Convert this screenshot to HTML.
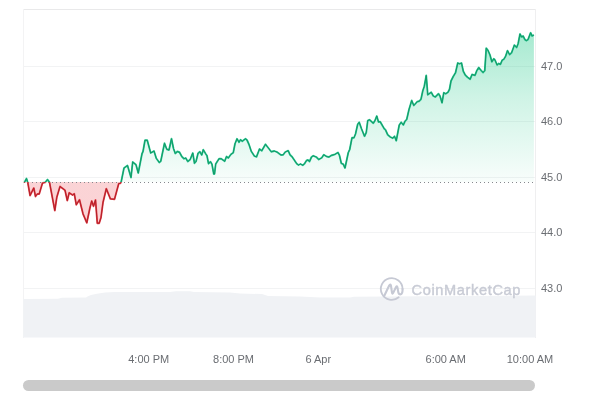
<!DOCTYPE html>
<html lang="en">
<head>
<meta charset="utf-8">
<title>Chart</title>
<style>
html,body{margin:0;padding:0;background:#fff;}
body{width:600px;height:400px;overflow:hidden;font-family:"Liberation Sans",sans-serif;}
svg{display:block;}
</style>
</head>
<body>
<svg width="600" height="400" viewBox="0 0 600 400">
<defs>
<linearGradient id="gG" gradientUnits="userSpaceOnUse" x1="0" y1="10" x2="0" y2="182">
<stop offset="0" stop-color="#16c784" stop-opacity="0.44"/>
<stop offset="0.5" stop-color="#16c784" stop-opacity="0.21"/>
<stop offset="1" stop-color="#16c784" stop-opacity="0.03"/>
</linearGradient>
<linearGradient id="gR" gradientUnits="userSpaceOnUse" x1="0" y1="182" x2="0" y2="337">
<stop offset="0" stop-color="#ea3943" stop-opacity="0.22"/>
<stop offset="1" stop-color="#ea3943" stop-opacity="0.22"/>
</linearGradient>
<clipPath id="cT"><rect x="0" y="0" width="600" height="182.3"/></clipPath>
<clipPath id="cB"><rect x="0" y="182.3" width="600" height="217.7"/></clipPath>
<clipPath id="fT"><rect x="0" y="0" width="600" height="182"/></clipPath>
<clipPath id="fB"><rect x="0" y="182" width="600" height="218"/></clipPath>
</defs>
<rect width="600" height="400" fill="#fff"/>
<rect x="23" y="66" width="512.5" height="1" fill="#f2f3f4"/>
<rect x="23" y="121" width="512.5" height="1" fill="#f2f3f4"/>
<rect x="23" y="177" width="512.5" height="1" fill="#f2f3f4"/>
<rect x="23" y="232" width="512.5" height="1" fill="#f2f3f4"/>
<rect x="23" y="288" width="512.5" height="1" fill="#f2f3f4"/>
<rect x="23" y="9" width="513" height="1" fill="#e9e9ea"/>
<rect x="23" y="9" width="1" height="329" fill="#f3f3f4"/>
<rect x="535" y="9" width="1" height="329" fill="#efeff0"/>
<path d="M23.30,299.00 L58.00,298.80 L62.00,297.80 L86.00,297.40 L88.00,296.20 L91.00,295.00 L97.00,293.80 L105.00,292.60 L115.00,292.00 L170.00,292.00 L176.00,291.30 L190.00,291.30 L194.00,292.00 L230.00,292.40 L240.00,293.60 L262.00,294.00 L268.00,296.00 L300.00,296.40 L320.00,297.40 L350.00,297.40 L354.00,296.80 L420.00,296.30 L470.00,296.00 L535.80,295.60 L535.8,337.6 L23.3,337.6 Z" fill="#f0f2f5"/>
<g fill="none" stroke="#c6c9d4" stroke-linecap="round" stroke-linejoin="round">
<path stroke-width="1.8" d="M398.7,297.3 A10.85,10.85 0 1 1 402.55,289"/>
<path stroke-width="2.1" d="M402.55,289 C402.7,291.6 402.1,294.4 400.5,294.4 C399,294.4 398.5,293.3 398.3,292.2 L397.5,287.6 Q397.1,285.2 395.9,287.2 L393.2,292.9 Q392.3,294.7 392,292.6 L391,285.8 Q390.4,283.3 389.2,285.5 L384.3,295.7"/>
</g>
<text x="411.6" y="294.5" font-family="'Liberation Sans', sans-serif" font-size="14.6" letter-spacing="0.62" fill="#c8cbd5" stroke="#c8cbd5" stroke-width="0.4">CoinMarketCap</text>
<path d="M24.30,182.60 L26.50,178.50 L27.80,182.70 L30.05,195.50 L33.80,188.00 L35.50,196.50 L37.30,194.00 L39.20,194.00 L42.50,183.00 L45.20,182.30 L47.50,179.60 L49.50,182.30 L54.80,210.50 L56.80,197.30 L60.00,186.50 L65.00,190.20 L67.30,200.60 L69.20,192.80 L72.50,195.00 L74.30,193.80 L76.30,204.80 L79.50,199.80 L83.00,213.80 L86.80,222.80 L89.80,208.50 L91.70,201.00 L93.50,206.30 L95.50,200.00 L97.30,223.20 L99.20,223.20 L101.00,217.50 L103.00,202.50 L106.30,188.70 L110.40,198.90 L114.50,199.25 L118.70,183.70 L120.40,183.30 L121.20,181.80 L124.00,168.00 L127.50,165.50 L131.00,177.50 L132.70,162.00 L136.00,164.70 L138.25,173.00 L142.00,153.75 L143.00,151.50 L145.00,140.25 L147.25,140.25 L150.70,153.00 L154.00,151.00 L156.25,158.25 L159.25,162.50 L160.75,161.25 L164.50,143.25 L166.75,149.25 L169.00,150.00 L171.50,138.75 L173.50,148.50 L175.30,153.50 L177.25,151.50 L179.50,152.25 L181.80,156.50 L184.00,158.75 L185.70,158.00 L187.80,161.50 L190.20,159.50 L192.75,153.00 L194.50,163.25 L196.00,161.50 L198.00,153.50 L199.80,151.70 L201.75,155.00 L203.25,149.75 L205.50,153.50 L207.00,155.75 L208.50,163.70 L210.50,161.75 L212.00,164.30 L213.75,174.00 L214.50,174.00 L215.70,164.00 L219.00,158.75 L221.25,158.75 L224.70,161.30 L226.50,156.50 L228.30,158.00 L231.00,154.25 L233.25,152.75 L235.00,143.75 L237.00,138.80 L239.00,142.25 L240.50,139.70 L242.25,141.20 L245.50,138.80 L247.00,140.00 L249.00,144.50 L251.25,151.25 L254.50,156.20 L256.50,156.80 L259.50,149.00 L261.75,150.80 L265.50,144.25 L267.80,147.25 L271.25,151.75 L274.25,151.00 L277.25,152.20 L281.00,155.00 L283.25,154.75 L285.20,152.00 L288.20,150.70 L290.00,154.75 L292.25,157.00 L296.75,163.75 L298.50,165.00 L300.50,164.00 L302.75,165.25 L304.50,163.75 L306.50,160.50 L308.00,160.00 L309.50,161.50 L311.50,157.00 L313.25,155.80 L316.25,157.00 L318.80,159.50 L321.80,157.75 L323.75,154.75 L327.00,156.70 L329.00,157.00 L331.25,155.50 L335.00,154.30 L338.00,152.50 L339.50,155.50 L341.30,163.30 L343.25,164.20 L345.00,168.00 L348.25,152.75 L349.75,149.30 L352.00,137.75 L354.00,137.75 L355.50,134.00 L357.70,124.25 L359.20,122.30 L361.50,128.75 L364.50,136.25 L366.25,132.50 L367.75,120.50 L369.50,119.75 L373.30,123.20 L375.00,120.50 L376.75,116.00 L378.50,122.00 L380.20,121.70 L384.25,128.75 L385.50,129.80 L387.70,134.75 L390.25,137.00 L392.80,138.20 L394.50,136.25 L396.25,140.75 L399.25,125.00 L401.20,122.30 L403.30,125.00 L405.00,121.25 L406.75,119.30 L409.00,109.50 L411.70,100.50 L413.80,105.50 L417.25,101.70 L419.00,101.25 L421.00,99.30 L422.80,90.75 L424.30,86.25 L426.25,75.50 L427.75,94.80 L431.20,92.25 L433.30,96.00 L435.25,97.00 L438.50,93.75 L440.00,96.00 L442.00,102.75 L443.80,92.70 L445.75,93.75 L448.00,92.25 L449.50,89.25 L451.00,81.00 L453.25,76.50 L455.50,72.75 L457.75,63.00 L459.50,63.75 L461.50,63.00 L463.30,71.25 L465.25,75.00 L467.50,77.25 L470.20,79.20 L472.00,74.50 L475.00,75.30 L476.90,70.40 L478.75,67.50 L481.25,70.60 L483.10,72.50 L484.75,70.60 L486.25,48.10 L488.10,50.60 L490.00,55.00 L491.90,61.90 L493.75,58.75 L495.00,60.00 L497.10,65.00 L498.75,63.50 L500.40,64.40 L502.25,60.00 L503.75,59.40 L505.60,56.25 L507.50,50.60 L509.60,54.60 L511.60,52.75 L514.40,45.00 L516.60,47.50 L518.10,43.75 L520.00,34.00 L521.50,36.90 L523.10,36.00 L525.00,39.75 L526.50,40.60 L528.10,39.40 L530.60,32.75 L532.10,36.00 L533.90,35.00 L533.90,182 L24.30,182 Z" fill="url(#gG)" clip-path="url(#fT)"/>
<path d="M24.30,182.60 L26.50,178.50 L27.80,182.70 L30.05,195.50 L33.80,188.00 L35.50,196.50 L37.30,194.00 L39.20,194.00 L42.50,183.00 L45.20,182.30 L47.50,179.60 L49.50,182.30 L54.80,210.50 L56.80,197.30 L60.00,186.50 L65.00,190.20 L67.30,200.60 L69.20,192.80 L72.50,195.00 L74.30,193.80 L76.30,204.80 L79.50,199.80 L83.00,213.80 L86.80,222.80 L89.80,208.50 L91.70,201.00 L93.50,206.30 L95.50,200.00 L97.30,223.20 L99.20,223.20 L101.00,217.50 L103.00,202.50 L106.30,188.70 L110.40,198.90 L114.50,199.25 L118.70,183.70 L120.40,183.30 L121.20,181.80 L124.00,168.00 L127.50,165.50 L131.00,177.50 L132.70,162.00 L136.00,164.70 L138.25,173.00 L142.00,153.75 L143.00,151.50 L145.00,140.25 L147.25,140.25 L150.70,153.00 L154.00,151.00 L156.25,158.25 L159.25,162.50 L160.75,161.25 L164.50,143.25 L166.75,149.25 L169.00,150.00 L171.50,138.75 L173.50,148.50 L175.30,153.50 L177.25,151.50 L179.50,152.25 L181.80,156.50 L184.00,158.75 L185.70,158.00 L187.80,161.50 L190.20,159.50 L192.75,153.00 L194.50,163.25 L196.00,161.50 L198.00,153.50 L199.80,151.70 L201.75,155.00 L203.25,149.75 L205.50,153.50 L207.00,155.75 L208.50,163.70 L210.50,161.75 L212.00,164.30 L213.75,174.00 L214.50,174.00 L215.70,164.00 L219.00,158.75 L221.25,158.75 L224.70,161.30 L226.50,156.50 L228.30,158.00 L231.00,154.25 L233.25,152.75 L235.00,143.75 L237.00,138.80 L239.00,142.25 L240.50,139.70 L242.25,141.20 L245.50,138.80 L247.00,140.00 L249.00,144.50 L251.25,151.25 L254.50,156.20 L256.50,156.80 L259.50,149.00 L261.75,150.80 L265.50,144.25 L267.80,147.25 L271.25,151.75 L274.25,151.00 L277.25,152.20 L281.00,155.00 L283.25,154.75 L285.20,152.00 L288.20,150.70 L290.00,154.75 L292.25,157.00 L296.75,163.75 L298.50,165.00 L300.50,164.00 L302.75,165.25 L304.50,163.75 L306.50,160.50 L308.00,160.00 L309.50,161.50 L311.50,157.00 L313.25,155.80 L316.25,157.00 L318.80,159.50 L321.80,157.75 L323.75,154.75 L327.00,156.70 L329.00,157.00 L331.25,155.50 L335.00,154.30 L338.00,152.50 L339.50,155.50 L341.30,163.30 L343.25,164.20 L345.00,168.00 L348.25,152.75 L349.75,149.30 L352.00,137.75 L354.00,137.75 L355.50,134.00 L357.70,124.25 L359.20,122.30 L361.50,128.75 L364.50,136.25 L366.25,132.50 L367.75,120.50 L369.50,119.75 L373.30,123.20 L375.00,120.50 L376.75,116.00 L378.50,122.00 L380.20,121.70 L384.25,128.75 L385.50,129.80 L387.70,134.75 L390.25,137.00 L392.80,138.20 L394.50,136.25 L396.25,140.75 L399.25,125.00 L401.20,122.30 L403.30,125.00 L405.00,121.25 L406.75,119.30 L409.00,109.50 L411.70,100.50 L413.80,105.50 L417.25,101.70 L419.00,101.25 L421.00,99.30 L422.80,90.75 L424.30,86.25 L426.25,75.50 L427.75,94.80 L431.20,92.25 L433.30,96.00 L435.25,97.00 L438.50,93.75 L440.00,96.00 L442.00,102.75 L443.80,92.70 L445.75,93.75 L448.00,92.25 L449.50,89.25 L451.00,81.00 L453.25,76.50 L455.50,72.75 L457.75,63.00 L459.50,63.75 L461.50,63.00 L463.30,71.25 L465.25,75.00 L467.50,77.25 L470.20,79.20 L472.00,74.50 L475.00,75.30 L476.90,70.40 L478.75,67.50 L481.25,70.60 L483.10,72.50 L484.75,70.60 L486.25,48.10 L488.10,50.60 L490.00,55.00 L491.90,61.90 L493.75,58.75 L495.00,60.00 L497.10,65.00 L498.75,63.50 L500.40,64.40 L502.25,60.00 L503.75,59.40 L505.60,56.25 L507.50,50.60 L509.60,54.60 L511.60,52.75 L514.40,45.00 L516.60,47.50 L518.10,43.75 L520.00,34.00 L521.50,36.90 L523.10,36.00 L525.00,39.75 L526.50,40.60 L528.10,39.40 L530.60,32.75 L532.10,36.00 L533.90,35.00 L533.90,182 L24.30,182 Z" fill="url(#gR)" clip-path="url(#fB)"/>
<line x1="24" y1="182.5" x2="535" y2="182.5" stroke="#85888d" stroke-width="1" stroke-dasharray="1 3"/>
<g fill="none" stroke-linejoin="round" stroke-linecap="butt" clip-path="url(#cT)"><path d="M24.30,182.60 L26.50,178.50 L27.80,182.70 L30.05,195.50 L33.80,188.00 L35.50,196.50 L37.30,194.00 L39.20,194.00 L42.50,183.00 L45.20,182.30 L47.50,179.60 L49.50,182.30 L54.80,210.50 L56.80,197.30 L60.00,186.50 L65.00,190.20 L67.30,200.60 L69.20,192.80 L72.50,195.00 L74.30,193.80 L76.30,204.80 L79.50,199.80 L83.00,213.80 L86.80,222.80 L89.80,208.50 L91.70,201.00 L93.50,206.30 L95.50,200.00 L97.30,223.20 L99.20,223.20 L101.00,217.50 L103.00,202.50 L106.30,188.70 L110.40,198.90 L114.50,199.25 L118.70,183.70 L120.40,183.30 L121.20,181.80 L124.00,168.00 L127.50,165.50 L131.00,177.50 L132.70,162.00 L136.00,164.70 L138.25,173.00 L142.00,153.75 L143.00,151.50 L145.00,140.25 L147.25,140.25 L150.70,153.00 L154.00,151.00 L156.25,158.25 L159.25,162.50 L160.75,161.25 L164.50,143.25 L166.75,149.25 L169.00,150.00 L171.50,138.75 L173.50,148.50 L175.30,153.50 L177.25,151.50 L179.50,152.25 L181.80,156.50 L184.00,158.75 L185.70,158.00 L187.80,161.50 L190.20,159.50 L192.75,153.00 L194.50,163.25 L196.00,161.50 L198.00,153.50 L199.80,151.70 L201.75,155.00 L203.25,149.75 L205.50,153.50 L207.00,155.75 L208.50,163.70 L210.50,161.75 L212.00,164.30 L213.75,174.00 L214.50,174.00 L215.70,164.00 L219.00,158.75 L221.25,158.75 L224.70,161.30 L226.50,156.50 L228.30,158.00 L231.00,154.25 L233.25,152.75 L235.00,143.75 L237.00,138.80 L239.00,142.25 L240.50,139.70 L242.25,141.20 L245.50,138.80 L247.00,140.00 L249.00,144.50 L251.25,151.25 L254.50,156.20 L256.50,156.80 L259.50,149.00 L261.75,150.80 L265.50,144.25 L267.80,147.25 L271.25,151.75 L274.25,151.00 L277.25,152.20 L281.00,155.00 L283.25,154.75 L285.20,152.00 L288.20,150.70 L290.00,154.75 L292.25,157.00 L296.75,163.75 L298.50,165.00 L300.50,164.00 L302.75,165.25 L304.50,163.75 L306.50,160.50 L308.00,160.00 L309.50,161.50 L311.50,157.00 L313.25,155.80 L316.25,157.00 L318.80,159.50 L321.80,157.75 L323.75,154.75 L327.00,156.70 L329.00,157.00 L331.25,155.50 L335.00,154.30 L338.00,152.50 L339.50,155.50 L341.30,163.30 L343.25,164.20 L345.00,168.00 L348.25,152.75 L349.75,149.30 L352.00,137.75 L354.00,137.75 L355.50,134.00 L357.70,124.25 L359.20,122.30 L361.50,128.75 L364.50,136.25 L366.25,132.50 L367.75,120.50 L369.50,119.75 L373.30,123.20 L375.00,120.50 L376.75,116.00 L378.50,122.00 L380.20,121.70 L384.25,128.75 L385.50,129.80 L387.70,134.75 L390.25,137.00 L392.80,138.20 L394.50,136.25 L396.25,140.75 L399.25,125.00 L401.20,122.30 L403.30,125.00 L405.00,121.25 L406.75,119.30 L409.00,109.50 L411.70,100.50 L413.80,105.50 L417.25,101.70 L419.00,101.25 L421.00,99.30 L422.80,90.75 L424.30,86.25 L426.25,75.50 L427.75,94.80 L431.20,92.25 L433.30,96.00 L435.25,97.00 L438.50,93.75 L440.00,96.00 L442.00,102.75 L443.80,92.70 L445.75,93.75 L448.00,92.25 L449.50,89.25 L451.00,81.00 L453.25,76.50 L455.50,72.75 L457.75,63.00 L459.50,63.75 L461.50,63.00 L463.30,71.25 L465.25,75.00 L467.50,77.25 L470.20,79.20 L472.00,74.50 L475.00,75.30 L476.90,70.40 L478.75,67.50 L481.25,70.60 L483.10,72.50 L484.75,70.60 L486.25,48.10 L488.10,50.60 L490.00,55.00 L491.90,61.90 L493.75,58.75 L495.00,60.00 L497.10,65.00 L498.75,63.50 L500.40,64.40 L502.25,60.00 L503.75,59.40 L505.60,56.25 L507.50,50.60 L509.60,54.60 L511.60,52.75 L514.40,45.00 L516.60,47.50 L518.10,43.75 L520.00,34.00 L521.50,36.90 L523.10,36.00 L525.00,39.75 L526.50,40.60 L528.10,39.40 L530.60,32.75 L532.10,36.00 L533.90,35.00" stroke="#2fc693" stroke-width="1.85"/><path d="M24.30,182.60 L26.50,178.50 L27.80,182.70 L30.05,195.50 L33.80,188.00 L35.50,196.50 L37.30,194.00 L39.20,194.00 L42.50,183.00 L45.20,182.30 L47.50,179.60 L49.50,182.30 L54.80,210.50 L56.80,197.30 L60.00,186.50 L65.00,190.20 L67.30,200.60 L69.20,192.80 L72.50,195.00 L74.30,193.80 L76.30,204.80 L79.50,199.80 L83.00,213.80 L86.80,222.80 L89.80,208.50 L91.70,201.00 L93.50,206.30 L95.50,200.00 L97.30,223.20 L99.20,223.20 L101.00,217.50 L103.00,202.50 L106.30,188.70 L110.40,198.90 L114.50,199.25 L118.70,183.70 L120.40,183.30 L121.20,181.80 L124.00,168.00 L127.50,165.50 L131.00,177.50 L132.70,162.00 L136.00,164.70 L138.25,173.00 L142.00,153.75 L143.00,151.50 L145.00,140.25 L147.25,140.25 L150.70,153.00 L154.00,151.00 L156.25,158.25 L159.25,162.50 L160.75,161.25 L164.50,143.25 L166.75,149.25 L169.00,150.00 L171.50,138.75 L173.50,148.50 L175.30,153.50 L177.25,151.50 L179.50,152.25 L181.80,156.50 L184.00,158.75 L185.70,158.00 L187.80,161.50 L190.20,159.50 L192.75,153.00 L194.50,163.25 L196.00,161.50 L198.00,153.50 L199.80,151.70 L201.75,155.00 L203.25,149.75 L205.50,153.50 L207.00,155.75 L208.50,163.70 L210.50,161.75 L212.00,164.30 L213.75,174.00 L214.50,174.00 L215.70,164.00 L219.00,158.75 L221.25,158.75 L224.70,161.30 L226.50,156.50 L228.30,158.00 L231.00,154.25 L233.25,152.75 L235.00,143.75 L237.00,138.80 L239.00,142.25 L240.50,139.70 L242.25,141.20 L245.50,138.80 L247.00,140.00 L249.00,144.50 L251.25,151.25 L254.50,156.20 L256.50,156.80 L259.50,149.00 L261.75,150.80 L265.50,144.25 L267.80,147.25 L271.25,151.75 L274.25,151.00 L277.25,152.20 L281.00,155.00 L283.25,154.75 L285.20,152.00 L288.20,150.70 L290.00,154.75 L292.25,157.00 L296.75,163.75 L298.50,165.00 L300.50,164.00 L302.75,165.25 L304.50,163.75 L306.50,160.50 L308.00,160.00 L309.50,161.50 L311.50,157.00 L313.25,155.80 L316.25,157.00 L318.80,159.50 L321.80,157.75 L323.75,154.75 L327.00,156.70 L329.00,157.00 L331.25,155.50 L335.00,154.30 L338.00,152.50 L339.50,155.50 L341.30,163.30 L343.25,164.20 L345.00,168.00 L348.25,152.75 L349.75,149.30 L352.00,137.75 L354.00,137.75 L355.50,134.00 L357.70,124.25 L359.20,122.30 L361.50,128.75 L364.50,136.25 L366.25,132.50 L367.75,120.50 L369.50,119.75 L373.30,123.20 L375.00,120.50 L376.75,116.00 L378.50,122.00 L380.20,121.70 L384.25,128.75 L385.50,129.80 L387.70,134.75 L390.25,137.00 L392.80,138.20 L394.50,136.25 L396.25,140.75 L399.25,125.00 L401.20,122.30 L403.30,125.00 L405.00,121.25 L406.75,119.30 L409.00,109.50 L411.70,100.50 L413.80,105.50 L417.25,101.70 L419.00,101.25 L421.00,99.30 L422.80,90.75 L424.30,86.25 L426.25,75.50 L427.75,94.80 L431.20,92.25 L433.30,96.00 L435.25,97.00 L438.50,93.75 L440.00,96.00 L442.00,102.75 L443.80,92.70 L445.75,93.75 L448.00,92.25 L449.50,89.25 L451.00,81.00 L453.25,76.50 L455.50,72.75 L457.75,63.00 L459.50,63.75 L461.50,63.00 L463.30,71.25 L465.25,75.00 L467.50,77.25 L470.20,79.20 L472.00,74.50 L475.00,75.30 L476.90,70.40 L478.75,67.50 L481.25,70.60 L483.10,72.50 L484.75,70.60 L486.25,48.10 L488.10,50.60 L490.00,55.00 L491.90,61.90 L493.75,58.75 L495.00,60.00 L497.10,65.00 L498.75,63.50 L500.40,64.40 L502.25,60.00 L503.75,59.40 L505.60,56.25 L507.50,50.60 L509.60,54.60 L511.60,52.75 L514.40,45.00 L516.60,47.50 L518.10,43.75 L520.00,34.00 L521.50,36.90 L523.10,36.00 L525.00,39.75 L526.50,40.60 L528.10,39.40 L530.60,32.75 L532.10,36.00 L533.90,35.00" stroke="#0f9764" stroke-width="0.95"/></g>
<g fill="none" stroke-linejoin="round" stroke-linecap="butt" clip-path="url(#cB)"><path d="M24.30,182.60 L26.50,178.50 L27.80,182.70 L30.05,195.50 L33.80,188.00 L35.50,196.50 L37.30,194.00 L39.20,194.00 L42.50,183.00 L45.20,182.30 L47.50,179.60 L49.50,182.30 L54.80,210.50 L56.80,197.30 L60.00,186.50 L65.00,190.20 L67.30,200.60 L69.20,192.80 L72.50,195.00 L74.30,193.80 L76.30,204.80 L79.50,199.80 L83.00,213.80 L86.80,222.80 L89.80,208.50 L91.70,201.00 L93.50,206.30 L95.50,200.00 L97.30,223.20 L99.20,223.20 L101.00,217.50 L103.00,202.50 L106.30,188.70 L110.40,198.90 L114.50,199.25 L118.70,183.70 L120.40,183.30 L121.20,181.80 L124.00,168.00 L127.50,165.50 L131.00,177.50 L132.70,162.00 L136.00,164.70 L138.25,173.00 L142.00,153.75 L143.00,151.50 L145.00,140.25 L147.25,140.25 L150.70,153.00 L154.00,151.00 L156.25,158.25 L159.25,162.50 L160.75,161.25 L164.50,143.25 L166.75,149.25 L169.00,150.00 L171.50,138.75 L173.50,148.50 L175.30,153.50 L177.25,151.50 L179.50,152.25 L181.80,156.50 L184.00,158.75 L185.70,158.00 L187.80,161.50 L190.20,159.50 L192.75,153.00 L194.50,163.25 L196.00,161.50 L198.00,153.50 L199.80,151.70 L201.75,155.00 L203.25,149.75 L205.50,153.50 L207.00,155.75 L208.50,163.70 L210.50,161.75 L212.00,164.30 L213.75,174.00 L214.50,174.00 L215.70,164.00 L219.00,158.75 L221.25,158.75 L224.70,161.30 L226.50,156.50 L228.30,158.00 L231.00,154.25 L233.25,152.75 L235.00,143.75 L237.00,138.80 L239.00,142.25 L240.50,139.70 L242.25,141.20 L245.50,138.80 L247.00,140.00 L249.00,144.50 L251.25,151.25 L254.50,156.20 L256.50,156.80 L259.50,149.00 L261.75,150.80 L265.50,144.25 L267.80,147.25 L271.25,151.75 L274.25,151.00 L277.25,152.20 L281.00,155.00 L283.25,154.75 L285.20,152.00 L288.20,150.70 L290.00,154.75 L292.25,157.00 L296.75,163.75 L298.50,165.00 L300.50,164.00 L302.75,165.25 L304.50,163.75 L306.50,160.50 L308.00,160.00 L309.50,161.50 L311.50,157.00 L313.25,155.80 L316.25,157.00 L318.80,159.50 L321.80,157.75 L323.75,154.75 L327.00,156.70 L329.00,157.00 L331.25,155.50 L335.00,154.30 L338.00,152.50 L339.50,155.50 L341.30,163.30 L343.25,164.20 L345.00,168.00 L348.25,152.75 L349.75,149.30 L352.00,137.75 L354.00,137.75 L355.50,134.00 L357.70,124.25 L359.20,122.30 L361.50,128.75 L364.50,136.25 L366.25,132.50 L367.75,120.50 L369.50,119.75 L373.30,123.20 L375.00,120.50 L376.75,116.00 L378.50,122.00 L380.20,121.70 L384.25,128.75 L385.50,129.80 L387.70,134.75 L390.25,137.00 L392.80,138.20 L394.50,136.25 L396.25,140.75 L399.25,125.00 L401.20,122.30 L403.30,125.00 L405.00,121.25 L406.75,119.30 L409.00,109.50 L411.70,100.50 L413.80,105.50 L417.25,101.70 L419.00,101.25 L421.00,99.30 L422.80,90.75 L424.30,86.25 L426.25,75.50 L427.75,94.80 L431.20,92.25 L433.30,96.00 L435.25,97.00 L438.50,93.75 L440.00,96.00 L442.00,102.75 L443.80,92.70 L445.75,93.75 L448.00,92.25 L449.50,89.25 L451.00,81.00 L453.25,76.50 L455.50,72.75 L457.75,63.00 L459.50,63.75 L461.50,63.00 L463.30,71.25 L465.25,75.00 L467.50,77.25 L470.20,79.20 L472.00,74.50 L475.00,75.30 L476.90,70.40 L478.75,67.50 L481.25,70.60 L483.10,72.50 L484.75,70.60 L486.25,48.10 L488.10,50.60 L490.00,55.00 L491.90,61.90 L493.75,58.75 L495.00,60.00 L497.10,65.00 L498.75,63.50 L500.40,64.40 L502.25,60.00 L503.75,59.40 L505.60,56.25 L507.50,50.60 L509.60,54.60 L511.60,52.75 L514.40,45.00 L516.60,47.50 L518.10,43.75 L520.00,34.00 L521.50,36.90 L523.10,36.00 L525.00,39.75 L526.50,40.60 L528.10,39.40 L530.60,32.75 L532.10,36.00 L533.90,35.00" stroke="#e3474f" stroke-width="1.85"/><path d="M24.30,182.60 L26.50,178.50 L27.80,182.70 L30.05,195.50 L33.80,188.00 L35.50,196.50 L37.30,194.00 L39.20,194.00 L42.50,183.00 L45.20,182.30 L47.50,179.60 L49.50,182.30 L54.80,210.50 L56.80,197.30 L60.00,186.50 L65.00,190.20 L67.30,200.60 L69.20,192.80 L72.50,195.00 L74.30,193.80 L76.30,204.80 L79.50,199.80 L83.00,213.80 L86.80,222.80 L89.80,208.50 L91.70,201.00 L93.50,206.30 L95.50,200.00 L97.30,223.20 L99.20,223.20 L101.00,217.50 L103.00,202.50 L106.30,188.70 L110.40,198.90 L114.50,199.25 L118.70,183.70 L120.40,183.30 L121.20,181.80 L124.00,168.00 L127.50,165.50 L131.00,177.50 L132.70,162.00 L136.00,164.70 L138.25,173.00 L142.00,153.75 L143.00,151.50 L145.00,140.25 L147.25,140.25 L150.70,153.00 L154.00,151.00 L156.25,158.25 L159.25,162.50 L160.75,161.25 L164.50,143.25 L166.75,149.25 L169.00,150.00 L171.50,138.75 L173.50,148.50 L175.30,153.50 L177.25,151.50 L179.50,152.25 L181.80,156.50 L184.00,158.75 L185.70,158.00 L187.80,161.50 L190.20,159.50 L192.75,153.00 L194.50,163.25 L196.00,161.50 L198.00,153.50 L199.80,151.70 L201.75,155.00 L203.25,149.75 L205.50,153.50 L207.00,155.75 L208.50,163.70 L210.50,161.75 L212.00,164.30 L213.75,174.00 L214.50,174.00 L215.70,164.00 L219.00,158.75 L221.25,158.75 L224.70,161.30 L226.50,156.50 L228.30,158.00 L231.00,154.25 L233.25,152.75 L235.00,143.75 L237.00,138.80 L239.00,142.25 L240.50,139.70 L242.25,141.20 L245.50,138.80 L247.00,140.00 L249.00,144.50 L251.25,151.25 L254.50,156.20 L256.50,156.80 L259.50,149.00 L261.75,150.80 L265.50,144.25 L267.80,147.25 L271.25,151.75 L274.25,151.00 L277.25,152.20 L281.00,155.00 L283.25,154.75 L285.20,152.00 L288.20,150.70 L290.00,154.75 L292.25,157.00 L296.75,163.75 L298.50,165.00 L300.50,164.00 L302.75,165.25 L304.50,163.75 L306.50,160.50 L308.00,160.00 L309.50,161.50 L311.50,157.00 L313.25,155.80 L316.25,157.00 L318.80,159.50 L321.80,157.75 L323.75,154.75 L327.00,156.70 L329.00,157.00 L331.25,155.50 L335.00,154.30 L338.00,152.50 L339.50,155.50 L341.30,163.30 L343.25,164.20 L345.00,168.00 L348.25,152.75 L349.75,149.30 L352.00,137.75 L354.00,137.75 L355.50,134.00 L357.70,124.25 L359.20,122.30 L361.50,128.75 L364.50,136.25 L366.25,132.50 L367.75,120.50 L369.50,119.75 L373.30,123.20 L375.00,120.50 L376.75,116.00 L378.50,122.00 L380.20,121.70 L384.25,128.75 L385.50,129.80 L387.70,134.75 L390.25,137.00 L392.80,138.20 L394.50,136.25 L396.25,140.75 L399.25,125.00 L401.20,122.30 L403.30,125.00 L405.00,121.25 L406.75,119.30 L409.00,109.50 L411.70,100.50 L413.80,105.50 L417.25,101.70 L419.00,101.25 L421.00,99.30 L422.80,90.75 L424.30,86.25 L426.25,75.50 L427.75,94.80 L431.20,92.25 L433.30,96.00 L435.25,97.00 L438.50,93.75 L440.00,96.00 L442.00,102.75 L443.80,92.70 L445.75,93.75 L448.00,92.25 L449.50,89.25 L451.00,81.00 L453.25,76.50 L455.50,72.75 L457.75,63.00 L459.50,63.75 L461.50,63.00 L463.30,71.25 L465.25,75.00 L467.50,77.25 L470.20,79.20 L472.00,74.50 L475.00,75.30 L476.90,70.40 L478.75,67.50 L481.25,70.60 L483.10,72.50 L484.75,70.60 L486.25,48.10 L488.10,50.60 L490.00,55.00 L491.90,61.90 L493.75,58.75 L495.00,60.00 L497.10,65.00 L498.75,63.50 L500.40,64.40 L502.25,60.00 L503.75,59.40 L505.60,56.25 L507.50,50.60 L509.60,54.60 L511.60,52.75 L514.40,45.00 L516.60,47.50 L518.10,43.75 L520.00,34.00 L521.50,36.90 L523.10,36.00 L525.00,39.75 L526.50,40.60 L528.10,39.40 L530.60,32.75 L532.10,36.00 L533.90,35.00" stroke="#b01c26" stroke-width="0.95"/></g>
<text x="541" y="70" font-family="'Liberation Sans', sans-serif" font-size="11" fill="#6a6d72">47.0</text>
<text x="541" y="125" font-family="'Liberation Sans', sans-serif" font-size="11" fill="#6a6d72">46.0</text>
<text x="541" y="181" font-family="'Liberation Sans', sans-serif" font-size="11" fill="#6a6d72">45.0</text>
<text x="541" y="236" font-family="'Liberation Sans', sans-serif" font-size="11" fill="#6a6d72">44.0</text>
<text x="541" y="292" font-family="'Liberation Sans', sans-serif" font-size="11" fill="#6a6d72">43.0</text>
<text x="148.7" y="362.5" text-anchor="middle" font-family="'Liberation Sans', sans-serif" font-size="11" fill="#6a6d72">4:00 PM</text>
<text x="233.5" y="362.5" text-anchor="middle" font-family="'Liberation Sans', sans-serif" font-size="11" fill="#6a6d72">8:00 PM</text>
<text x="318.3" y="362.5" text-anchor="middle" font-family="'Liberation Sans', sans-serif" font-size="11" fill="#6a6d72">6 Apr</text>
<text x="445.7" y="362.5" text-anchor="middle" font-family="'Liberation Sans', sans-serif" font-size="11" fill="#6a6d72">6:00 AM</text>
<text x="530" y="362.5" text-anchor="middle" font-family="'Liberation Sans', sans-serif" font-size="11" fill="#6a6d72">10:00 AM</text>
<rect x="23" y="380" width="512" height="11" rx="5.5" ry="5.5" fill="#cacaca"/>
</svg>
</body>
</html>
